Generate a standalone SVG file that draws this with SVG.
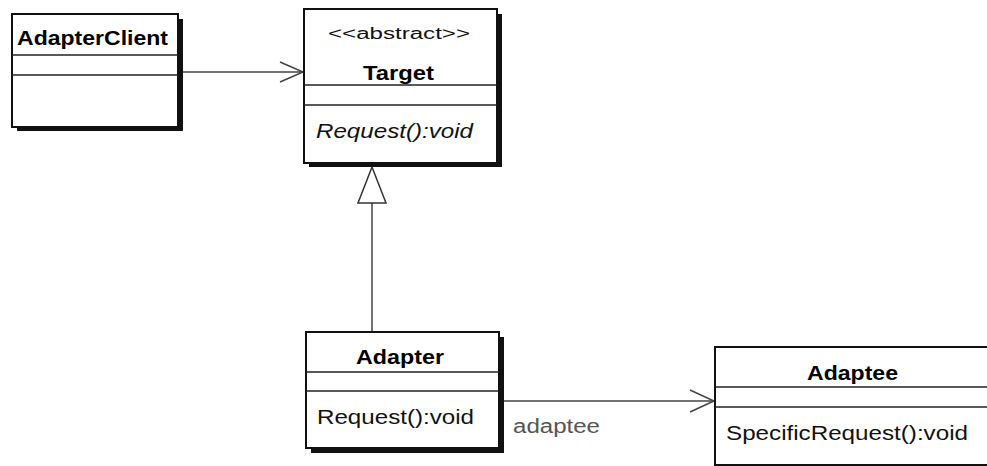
<svg xmlns="http://www.w3.org/2000/svg" width="987" height="466" viewBox="0 0 987 466">
  <style>
    .shadow { fill: #111; }
    .box { fill: #fff; stroke: #111; stroke-width: 2; }
    .div { stroke: #222; stroke-width: 1.6; }
    .name { font-family: "Liberation Sans", Arial, sans-serif; font-weight: bold; font-size: 21px; fill: #000; }
    .op { font-family: "Liberation Sans", Arial, sans-serif; font-size: 20px; fill: #111; }
    .stereo { font-family: "Liberation Sans", Arial, sans-serif; font-size: 16px; fill: #111; }
    .lbl { font-family: "Liberation Sans", Arial, sans-serif; font-size: 20px; fill: #555; }
    .conn { stroke: #444; stroke-width: 1.5; fill: none; }
  </style>
  <rect width="987" height="466" fill="#fff"/>

  <g id="connectors">
    <line class="conn" x1="183" y1="72" x2="303" y2="72"/>
    <polyline class="conn" points="280,62 303,72 280,82"/>
    <line class="conn" x1="372" y1="203" x2="372" y2="332"/>
    <polygon points="372,167 358,203 386,203" fill="#fff" stroke="#333" stroke-width="1.5"/>
    <line class="conn" x1="503" y1="401" x2="714" y2="401"/>
    <polyline class="conn" points="690,390 714,401 690,412"/>
    <text class="lbl" x="513" y="433" textLength="87" lengthAdjust="spacingAndGlyphs">adaptee</text>
  </g>

  <g id="AdapterClient">
    <rect class="shadow" x="17" y="19" width="166" height="112"/>
    <rect class="box" x="12" y="14" width="166" height="113"/>
    <line class="div" x1="12" y1="55" x2="178" y2="55"/>
    <line class="div" x1="12" y1="75" x2="178" y2="75"/>
    <text class="name" x="17" y="45" textLength="151" lengthAdjust="spacingAndGlyphs">AdapterClient</text>
  </g>

  <g id="Target">
    <rect class="shadow" x="309" y="14" width="193" height="153"/>
    <rect class="box" x="304" y="9" width="193" height="154"/>
    <line class="div" x1="304" y1="85" x2="497" y2="85"/>
    <line class="div" x1="304" y1="105" x2="497" y2="105"/>
    <text class="stereo" x="328" y="39" textLength="142" lengthAdjust="spacingAndGlyphs">&lt;&lt;abstract&gt;&gt;</text>
    <text class="name" x="363" y="80" textLength="71" lengthAdjust="spacingAndGlyphs">Target</text>
    <text class="op" x="316" y="138" font-style="italic" textLength="157" lengthAdjust="spacingAndGlyphs">Request():void</text>
  </g>

  <g id="Adapter">
    <rect class="shadow" x="311" y="337" width="193" height="116"/>
    <rect class="box" x="306" y="332" width="193" height="116"/>
    <line class="div" x1="306" y1="372" x2="499" y2="372"/>
    <line class="div" x1="306" y1="391" x2="499" y2="391"/>
    <text class="name" x="356" y="364" textLength="88" lengthAdjust="spacingAndGlyphs">Adapter</text>
    <text class="op" x="317" y="424" textLength="157" lengthAdjust="spacingAndGlyphs">Request():void</text>
  </g>

  <g id="Adaptee">
    <rect class="box" x="715" y="347" width="280" height="118"/>
    <line class="div" x1="715" y1="387" x2="995" y2="387"/>
    <line class="div" x1="715" y1="407" x2="995" y2="407"/>
    <text class="name" x="807" y="380" textLength="91" lengthAdjust="spacingAndGlyphs">Adaptee</text>
    <text class="op" x="726" y="440" textLength="242" lengthAdjust="spacingAndGlyphs">SpecificRequest():void</text>
  </g>
</svg>
